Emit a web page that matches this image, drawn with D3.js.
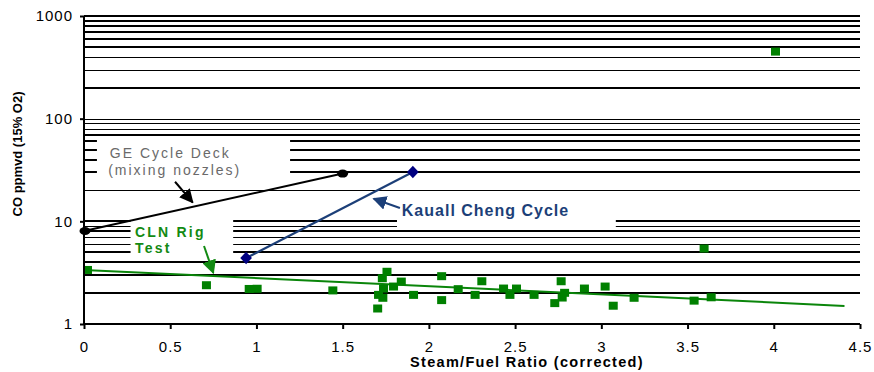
<!DOCTYPE html>
<html><head><meta charset="utf-8">
<script src="https://cdn.jsdelivr.net/npm/d3@7"></script>
<style>body{margin:0;background:#fff}svg{display:block;font-family:Arial,"Liberation Sans",sans-serif}</style>
</head><body><svg id="c" width="874" height="372"></svg>
<script>
// ---- data ----
const xTicks = [0, 0.5, 1, 1.5, 2, 2.5, 3, 3.5, 4, 4.5];
const yTicks = [1, 10, 100, 1000];
const gridValues = [2,3,4,5,6,7,8,9,10,20,30,40,50,60,70,80,90,100,200,300,400,500,600,700,800,900,1000];
const clnX = [0.71,0.958,1.004,1.443,1.757,1.73,1.795,1.84,1.737,1.708,1.733,1.703,1.911,2.074,2.074,2.17,2.307,2.268,2.433,2.47,2.508,2.61,2.767,2.73,2.773,2.787,2.902,3.022,3.069,3.19,3.596,3.538,3.637,4.01];
const clnY = [2.36,2.17,2.18,2.10,3.19,2.76,2.29,2.56,2.19,1.90,1.78,1.40,1.90,2.89,1.69,2.16,2.58,1.90,2.19,1.90,2.19,1.90,2.58,1.58,1.79,1.99,2.19,2.29,1.49,1.78,5.37,1.67,1.80,445];
const trendX = [0, 4.41];
const trendY = [3.36, 1.50];
const geX = [0, 1.5];
const geY = [8.05, 29.2];
const kcX = [0.94, 1.907];
const kcY = [4.39, 30.2];

// ---- layout ----
const svg = d3.select("#c");
const x = d3.scaleLinear().domain([0, 4.5]).range([84, 860]);
const y = d3.scaleLog().domain([1, 1000]).range([324, 16]);
const thin = new Set([400,300,100,90,80,20,9,7,6]);

// gridlines
svg.append("g").attr("shape-rendering", "crispEdges").selectAll("line").data(gridValues).join("line")
  .attr("x1", x(0)).attr("x2", x(4.5))
  .attr("y1", d => Math.round(y(d)) + (thin.has(d) ? 0.5 : 0))
  .attr("y2", d => Math.round(y(d)) + (thin.has(d) ? 0.5 : 0))
  .attr("stroke", "#000").attr("stroke-width", d => thin.has(d) ? 1 : 2);

// white label boxes (hide gridlines) — defined in data space
const boxes = [
  {x0: 0.075, x1: 1.195, y0: 66, y1: 21.5},
  {x0: 0.27, x1: 0.865, y0: 10.9, y1: 4.55},
  {x0: 1.815, x1: 3.084, y0: 19, y1: 8.3}
];
svg.append("g").selectAll("rect").data(boxes).join("rect")
  .attr("x", d => x(d.x0)).attr("width", d => x(d.x1) - x(d.x0))
  .attr("y", d => y(d.y0)).attr("height", d => y(d.y1) - y(d.y0))
  .attr("fill", "#fff");

// lines
const line = d3.line().x(d => x(d[0])).y(d => y(d[1]));
svg.append("path").datum(d3.zip(trendX, trendY)).attr("d", line)
  .attr("fill", "none").attr("stroke", "#0a850a").attr("stroke-width", 2);
svg.append("path").datum(d3.zip(geX, geY)).attr("d", line)
  .attr("fill", "none").attr("stroke", "#000").attr("stroke-width", 2);
svg.append("path").datum(d3.zip(kcX, kcY)).attr("d", line)
  .attr("fill", "none").attr("stroke", "#1c3f78").attr("stroke-width", 2.2);

// markers
svg.append("g").selectAll("rect").data(d3.zip(clnX, clnY)).join("rect")
  .attr("x", d => x(d[0]) - 4.5).attr("y", d => y(d[1]) - 4.5)
  .attr("width", 9).attr("height", 8).attr("fill", "#008000");
svg.append("rect").datum([trendX[0], trendY[0]])
  .attr("x", d => x(d[0])).attr("y", d => y(d[1]) - 4)
  .attr("width", 8).attr("height", 8).attr("fill", "#008000");
svg.append("g").selectAll("ellipse").data(d3.zip(geX, geY)).join("ellipse")
  .attr("cx", d => x(d[0]) + (d[0] === 0 ? 1 : 0)).attr("cy", d => y(d[1]))
  .attr("rx", 5.5).attr("ry", 4).attr("fill", "#000");
svg.append("g").selectAll("path").data(d3.zip(kcX, kcY)).join("path")
  .attr("d", d3.symbol(d3.symbolDiamond, 70))
  .attr("transform", d => `translate(${x(d[0])},${y(d[1])}) scale(1.3,0.8)`)
  .attr("fill", "#000080");

// annotations
const labels = [
  {t: "GE Cycle Deck", x: 0.15, y: 41.5, c: "#6a6a6a", w: "normal", s: 14, ls: 2},
  {t: "(mixing nozzles)", x: 0.14, y: 28.5, c: "#6a6a6a", w: "normal", s: 14, ls: 2},
  {t: "CLN Rig", x: 0.296, y: 7.05, c: "#138a13", w: "bold", s: 14, ls: 2.2},
  {t: "Test", x: 0.296, y: 4.95, c: "#138a13", w: "bold", s: 14, ls: 2.2},
  {t: "Kauall Cheng Cycle", x: 1.843, y: 11.2, c: "#1c3f78", w: "bold", s: 16, ls: 1}
];
svg.append("g").selectAll("text").data(labels).join("text")
  .attr("x", d => x(d.x)).attr("y", d => y(d.y))
  .attr("fill", d => d.c).attr("font-weight", d => d.w)
  .attr("font-size", d => d.s).attr("letter-spacing", d => d.ls).text(d => d.t);

const defs = svg.append("defs");
[["ahBlack","#000"],["ahGreen","#138a13"],["ahBlue","#1c3f78"]].forEach(([id,c]) => {
  defs.append("marker").attr("id", id).attr("viewBox", "0 0 10 10").attr("refX", 9).attr("refY", 5)
    .attr("markerWidth", 7).attr("markerHeight", 7).attr("orient", "auto")
    .append("path").attr("d", "M0,0L10,5L0,10z").attr("fill", c);
});
const arrows = [
  {x1: 0.528, y1: 24.3, x2: 0.63, y2: 15.3, c: "#000", m: "ahBlack"},
  {x1: 0.696, y1: 5.75, x2: 0.75, y2: 3.15, c: "#138a13", m: "ahGreen"},
  {x1: 1.832, y1: 13.5, x2: 1.68, y2: 16.6, c: "#1c3f78", m: "ahBlue"}
];
svg.append("g").selectAll("line").data(arrows).join("line")
  .attr("x1", d => x(d.x1)).attr("y1", d => y(d.y1))
  .attr("x2", d => x(d.x2)).attr("y2", d => y(d.y2))
  .attr("stroke", d => d.c).attr("stroke-width", 2)
  .attr("marker-end", d => `url(#${d.m})`);

// axes
const ax = svg.append("g").attr("transform", "translate(0,324)")
  .call(d3.axisBottom(x).tickValues(xTicks).tickFormat(d => String(d)).tickSize(5).tickPadding(12));
const ay = svg.append("g").attr("transform", "translate(84,0)")
  .call(d3.axisLeft(y).tickValues(yTicks).tickFormat(d3.format("d")).tickSize(4).tickPadding(7));
[ax, ay].forEach(g => {
  g.select(".domain").attr("stroke", "#000").attr("stroke-width", 2);
  g.selectAll(".tick line").attr("stroke", "#000").attr("stroke-width", 2);
  g.selectAll("text").attr("font-size", 15).attr("fill", "#000")
    .attr("font-family", "Arial, 'Liberation Sans', sans-serif").attr("letter-spacing", 1);
});
ay.select(".domain").attr("d", "M0,16V324");
ax.select(".domain").attr("d", "M84,0H860");

svg.append("text").attr("transform", "translate(22,154) rotate(-90)")
  .attr("text-anchor", "middle").attr("font-weight", "bold").attr("font-size", 13)
  .text("CO ppmvd (15% O2)");
svg.append("text").attr("x", 527).attr("y", 367)
  .attr("text-anchor", "middle").attr("font-weight", "bold").attr("font-size", 14.5)
  .attr("letter-spacing", 1.3).text("Steam/Fuel Ratio (corrected)");
</script></body></html>
